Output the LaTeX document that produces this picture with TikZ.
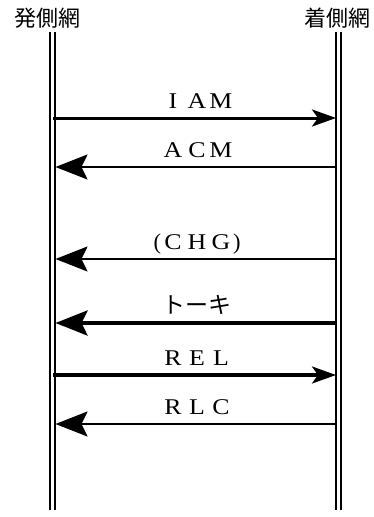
\documentclass[tikz,border=0pt]{standalone}
\usepackage{fontspec}
\usepackage{tikz}
\usetikzlibrary{arrows.meta}
\newfontfamily\jpfont{Noto Sans CJK JP}
\newfontfamily\msgfont{Liberation Serif}
\def\zen#1{\makebox[24pt]{\scalebox{1.15}[1]{#1}}}
\tikzset{net line/.style={draw=black, double, double distance=2.4pt, line width=2.2pt},
    net name/.style={font=\jpfont\fontsize{22}{26}\selectfont, inner sep=0pt},
    msg label/.style={anchor=base, inner sep=0pt, font=\msgfont\fontsize{22.5}{26}\selectfont},
    big head/.style={-{Stealth[length=32pt, width=25pt, inset=6pt]}, shorten >=3pt},
    small head/.style={-{Stealth[length=24pt, width=17pt, inset=6pt]}, shorten >=2.5pt}
    }
\def\MsgRight#1#2#3#4{%
 \coordinate (#1L) at (52.5,#2);
 \coordinate (#1R) at (338.5,#2);
 \node[msg label] (#1) at (197,{#2-10}) {#3};
 \draw[small head, line width=#4] (#1L) -- (#1R);
}
\def\MsgLeft#1#2#3#4{%
 \coordinate (#1L) at (52.5,#2);
 \coordinate (#1R) at (336,#2);
 \node[msg label] (#1) at (197,{#2-10}) {#3};
 \draw[big head, line width=#4] (#1R) -- (#1L);
}

\begin{document}
\begin{tikzpicture}[x=1pt, y=-1pt]
\useasboundingbox (0,0) rectangle (374,517);
\node[net name] (Hatsu) at (48,18) {発側網};
\node[net name] (Chaku) at (337,18) {着側網};
\coordinate (HatsuTop) at (52.5,32);
\coordinate (HatsuBot) at (52.5,510);
\coordinate (ChakuTop) at (338.5,32);
\coordinate (ChakuBot) at (338.5,510);
\draw[net line] (HatsuTop) -- (HatsuBot);
\draw[net line] (ChakuTop) -- (ChakuBot);
% messages
\MsgRight{IAM}{118}{\zen{I}\zen{A}\zen{M}}{3pt}
\MsgLeft{ACM}{167}{\zen{A}\zen{C}\zen{M}}{2.2pt}
\MsgLeft{CHG}{259}{\makebox[24pt][r]{(}\zen{C}\zen{H}\zen{G}\makebox[24pt][l]{)}}{2.2pt}
\MsgLeft{Talk}{323}{\jpfont\fontsize{23}{26}\selectfont トーキ}{4.2pt}
\MsgRight{REL}{375}{\zen{R}\zen{E}\zen{L}}{3.2pt}
\MsgLeft{RLC}{424}{\zen{R}\zen{L}\zen{C}}{2.4pt}
\end{tikzpicture}
\end{document}
